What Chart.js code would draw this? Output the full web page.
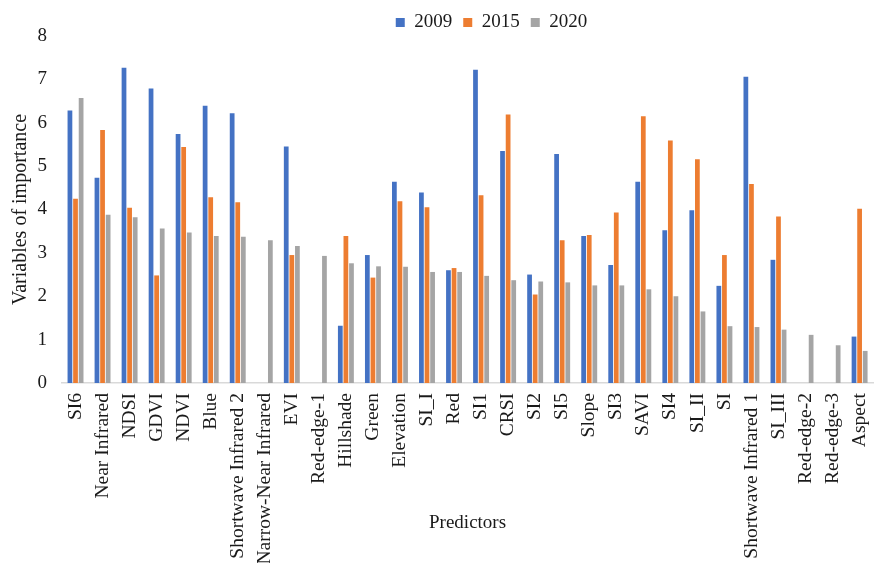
<!DOCTYPE html>
<html>
<head>
<meta charset="utf-8">
<script src="https://cdn.jsdelivr.net/npm/chart.js@4/dist/chart.umd.min.js"></script>
<style>
  html, body { margin: 0; padding: 0; background: #fff; overflow: hidden; }
  #wrap { width: 893px; height: 563px; }
</style>
</head>
<body>
<div id="wrap"><canvas id="graficaImportancia"></canvas></div>
<script>
// ======================
// DATOS
// ======================
const predictores = [
    "SI6", "Near Infrared", "NDSI", "GDVI", "NDVI", "Blue", "Shortwave Infrared 2",
    "Narrow-Near Infrared", "EVI", "Red-edge-1", "Hillshade", "Green", "Elevation",
    "SI_I", "Red", "SI1", "CRSI", "SI2", "SI5", "Slope", "SI3", "SAVI", "SI4",
    "SI_II", "SI", "Shortwave Infrared 1", "SI_III", "Red-edge-2", "Red-edge-3", "Aspect"
];

const valores2009 = [
    6.28, 4.73, 7.27, 6.79, 5.74, 6.39, 6.22,
    null, 5.45, null, 1.32, 2.95, 4.64,
    4.39, 2.60, 7.22, 5.35, 2.50, 5.28, 3.39, 2.72, 4.64, 3.52,
    3.98, 2.24, 7.06, 2.84, null, null, 1.07
];

const valores2015 = [
    4.25, 5.83, 4.04, 2.48, 5.44, 4.28, 4.17,
    null, 2.95, null, 3.39, 2.43, 4.19,
    4.05, 2.65, 4.33, 6.19, 2.04, 3.29, 3.41, 3.93, 6.15, 5.59,
    5.16, 2.95, 4.59, 3.84, null, null, 4.02
];

const valores2020 = [
    6.57, 3.88, 3.82, 3.56, 3.47, 3.39, 3.37,
    3.29, 3.16, 2.93, 2.76, 2.69, 2.68,
    2.56, 2.56, 2.47, 2.37, 2.34, 2.32, 2.25, 2.25, 2.16, 2.00,
    1.65, 1.31, 1.29, 1.23, 1.11, 0.87, 0.74
];

const ticksY = [0, 1, 2, 3, 4, 5, 6, 7, 8];

// ======================
// GRAFICA
// ======================
const fuente = "'Liberation Serif', 'Times New Roman', serif";
const colorTexto = "#1a1a1a";

// la leyenda del original no esta centrada en el lienzo
const moverLeyenda = {
    id: "moverLeyenda",
    afterLayout(chart) {
        chart.legend.left += 45;
        chart.legend.right += 45;
    }
};

const ctx = document.getElementById("graficaImportancia").getContext("2d");

new Chart(ctx, {
    type: "bar",
    data: {
        labels: predictores,
        datasets: [
            { label: "2009", data: valores2009, backgroundColor: "#4472C4" },
            { label: "2015", data: valores2015, backgroundColor: "#ED7D31" },
            { label: "2020", data: valores2020, backgroundColor: "#A5A5A5" }
        ]
    },
    plugins: [moverLeyenda],
    options: {
        responsive: true,
        maintainAspectRatio: false,
        animation: false,
        categoryPercentage: 0.62,
        barPercentage: 0.85,
        layout: { padding: { top: 2, right: 0, bottom: 0, left: 0 } },
        plugins: {
            legend: {
                position: "top",
                maxHeight: 34,
                labels: {
                    boxWidth: 9,
                    boxHeight: 9,
                    padding: 11,
                    color: colorTexto,
                    font: { family: fuente, size: 19 }
                }
            },
            tooltip: { enabled: false }
        },
        scales: {
            x: {
                grid: { display: false, drawTicks: false },
                border: { display: true, color: "#d9d9d9", width: 1.5 },
                ticks: {
                    autoSkip: false,
                    maxRotation: 90,
                    minRotation: 90,
                    padding: 10,
                    color: colorTexto,
                    font: { family: fuente, size: 19.5 }
                },
                title: {
                    display: true,
                    text: "Predictors",
                    color: colorTexto,
                    font: { family: fuente, size: 19 },
                    padding: { top: 0, bottom: 29 }
                },
                afterFit: scale => { scale.height = 180; }
            },
            y: {
                min: 0,
                max: 8,
                afterBuildTicks: scale => {
                    scale.ticks = ticksY.map(v => ({ value: v }));
                },
                grid: { display: false, drawTicks: false },
                border: { display: false },
                ticks: {
                    padding: 15,
                    color: colorTexto,
                    font: { family: fuente, size: 19 }
                },
                title: {
                    display: true,
                    text: "Variables of importance",
                    color: colorTexto,
                    font: { family: fuente, size: 20 },
                    padding: { top: 9, bottom: 0 }
                },
                afterFit: scale => { scale.width = 62; }
            }
        }
    }
});
</script>
</body>
</html>
